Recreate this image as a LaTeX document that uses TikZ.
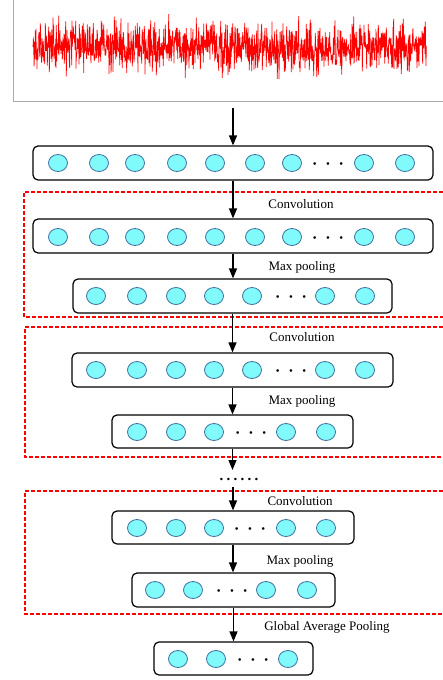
\documentclass[tikz,border=0pt]{standalone}
\usepackage{fontspec}
\setmainfont{Liberation Serif}
\usetikzlibrary{arrows.meta,shapes.geometric}
\definecolor{cellfill}{RGB}{128,250,250}
\definecolor{celldraw}{RGB}{60,110,160}
\definecolor{axisgray}{RGB}{170,170,170}
\newcommand{\threedots}{$\bullet\mkern18mu\bullet\mkern18mu\bullet$}
\tikzset{
  layer/.style={draw, line width=1.2pt, rounded corners=5pt, minimum height=34pt, inner sep=0pt},
  cell/.style={ellipse, draw=celldraw, fill=cellfill, line width=0.8pt, minimum width=19pt, minimum height=17pt, inner sep=0pt},
  flow/.style={-{Triangle[length=10pt,width=8pt]}, line width=1.2pt},
  block/.style={red, dash pattern=on 4pt off 2pt, line width=1.1pt},
  lbl/.style={font=\fontsize{13}{15}\selectfont, inner sep=1pt},
  more/.style={font=\fontsize{6.5}{8}\selectfont, inner sep=0pt}
}
\begin{document}
\begin{tikzpicture}[x=1pt,y=-1pt]
  \useasboundingbox (0,0) rectangle (443,680);

  % input signal
  \draw[axisgray, line width=0.8pt] (13,0) -- (13,101) -- (443,101);
  \pgfmathsetseed{11}
  \draw[red, line width=0.7pt] (33,47)
    \foreach \i in {1,...,1180} { -- ({33+\i/3}, {47+12.5*(rand+rand+rand)}) };
  \coordinate (sig) at (233,108);

  % layers
  \node[layer, minimum width=400pt] (b1) at (233,163) {};
  \node[layer, minimum width=400pt] (b2) at (233,236) {};
  \node[layer, minimum width=319pt] (b3) at (232.5,296) {};
  \node[layer, minimum width=321pt] (b4) at (232.5,370) {};
  \node[layer, minimum width=241pt, minimum height=33pt] (b5) at (232.5,431.5) {};
  \node[layer, minimum width=242pt, minimum height=33pt] (b6) at (233,527.5) {};
  \node[layer, minimum width=203pt] (b7) at (233.5,590) {};
  \node[layer, minimum width=159pt, minimum height=33pt] (b8) at (233.5,658.5) {};

  % cells
  \foreach \x [count=\k] in {58,99,135,177,215,255,292,364,405} {
    \node[cell] (c1-\k) at (\x,163) {};
    \node[cell] (c2-\k) at (\x,237) {};
  }
  \foreach \x [count=\k] in {96,137,176,214,252,325,365} {
    \node[cell] (c3-\k) at (\x,296) {};
    \node[cell] (c4-\k) at (\x,370) {};
  }
  \foreach \x [count=\k] in {137,176,214,286,326} {
    \node[cell] (c5-\k) at (\x,432) {};
    \node[cell] (c6-\k) at (\x,528) {};
  }
  \foreach \x [count=\k] in {155,193,266,307} \node[cell] (c7-\k) at (\x,590) {};
  \foreach \x [count=\k] in {178,216,288} \node[cell] (c8-\k) at (\x,659) {};

  \node[more] (d1) at (328,164) {\threedots};
  \node[more] (d2) at (328,238) {\threedots};
  \node[more] (d3) at (291,297) {\threedots};
  \node[more] (d4) at (291,371) {\threedots};
  \node[more] (d5) at (251,433) {\threedots};
  \node[more] (d6) at (250,529) {\threedots};
  \node[more] (d7) at (232,591) {\threedots};
  \node[more] (d8) at (253,660) {\threedots};

  % labels
  \node[lbl] (l1) at (301,204) {Convolution};
  \node[lbl] (l2) at (302,267) {Max pooling};
  \node[lbl] (l3) at (302,337) {Convolution};
  \node[lbl] (l4) at (302,401) {Max pooling};
  \node[lbl] (l5) at (300,501) {Convolution};
  \node[lbl] (l6) at (300,561) {Max pooling};
  \node[lbl] (l7) at (327,627) {Global Average Pooling};
  \node[lbl, font=\fontsize{15}{17}\selectfont\bfseries\addfontfeature{LetterSpace=22}] (gap) at (239,479) {......};
  \coordinate (cut) at (233,470);

  % dashed blocks
  \draw[block] (443,192) -| (24,317) -- (443,317);
  \draw[block] (443,327) -| (25,457) -- (443,457);
  \draw[block] (443,491) -| (25,614) -- (443,614);

  % arrows
  \draw[flow] (sig) -- (sig |- b1.north);
  \draw[flow] (b1.south) -- (b1.south |- b2.north);
  \draw[flow] (b2.south) -- (b2.south |- b3.north);
  \draw[flow] (b3.south) -- (b3.south |- b4.north);
  \draw[flow] (b4.south) -- (b4.south |- b5.north);
  \draw[flow] (b5.south) -- (b5.south |- cut);
  \draw[flow, shorten <=6pt] (gap.south -| b6.north) -- (b6.north);
  \draw[flow] (b6.south) -- (b6.south |- b7.north);
  \draw[flow] (b7.south) -- (b7.south |- b8.north);
\end{tikzpicture}
\end{document}
